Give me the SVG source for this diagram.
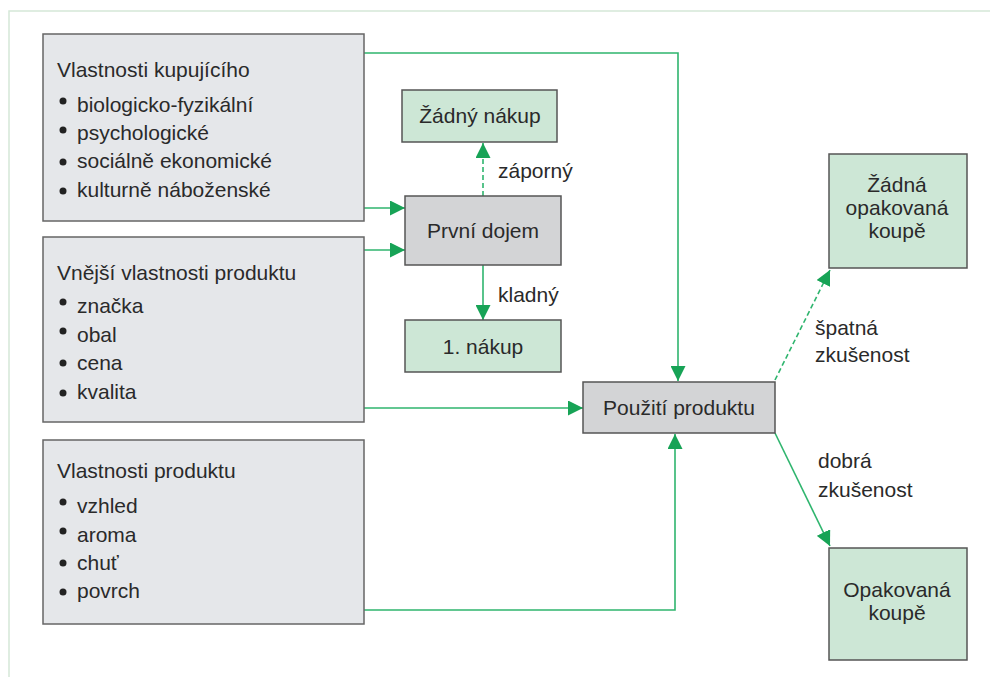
<svg xmlns="http://www.w3.org/2000/svg" width="990" height="677" viewBox="0 0 990 677">
<style>
text{font-family:"Liberation Sans",Arial,sans-serif;font-size:21px;fill:#2a2a2a}
.c{text-anchor:middle}
.grey{fill:#e5e7ea;stroke:#666;stroke-width:1.5}
.dark{fill:#d3d4d6;stroke:#555;stroke-width:1.5}
.green{fill:#cde7d6;stroke:#555;stroke-width:1.5}
.ln{fill:none;stroke:#2fb56e;stroke-width:1.6}
.dash{stroke-dasharray:5 3}
.b{fill:#222}
</style>
<defs>
<marker id="ah" viewBox="0 0 10 10" refX="10" refY="5" markerWidth="15" markerHeight="15" markerUnits="userSpaceOnUse" orient="auto">
<path d="M0,0 L10,5 L0,10 Z" fill="#17a356"/>
</marker>
</defs>
<rect width="990" height="677" fill="#fff"/>
<path d="M9,677 V11 H990" fill="none" stroke="#d5e8d8" stroke-width="1.5"/>
<g id="connectors">
<path class="ln" d="M364,53 H678 V381" marker-end="url(#ah)"/>
<path class="ln" d="M364,208 H405" marker-end="url(#ah)"/>
<path class="ln" d="M364,250 H405" marker-end="url(#ah)"/>
<path class="ln dash" d="M483,196 V143" marker-end="url(#ah)"/>
<path class="ln" d="M483,265 V320" marker-end="url(#ah)"/>
<path class="ln" d="M364,408 H583" marker-end="url(#ah)"/>
<path class="ln" d="M364,610 H675 V434" marker-end="url(#ah)"/>
<path class="ln dash" d="M775,380 L830,270" marker-end="url(#ah)"/>
<path class="ln" d="M775,433 L830,546" marker-end="url(#ah)"/>
<text x="498" y="178">záporný</text>
<text x="498" y="302">kladný</text>
<text x="815" y="335">špatná</text>
<text x="815" y="362">zkušenost</text>
<text x="818" y="468">dobrá</text>
<text x="818" y="497">zkušenost</text>
</g>
<g id="box-kupujici">
<rect class="grey" x="43" y="34" width="321" height="187"/>
<text x="57" y="77">Vlastnosti kupujícího</text>
<circle class="b" cx="63" cy="101" r="3.5"/><text x="77" y="112">biologicko-fyzikální</text>
<circle class="b" cx="63" cy="130" r="3.5"/><text x="77" y="140">psychologické</text>
<circle class="b" cx="63" cy="162" r="3.5"/><text x="77" y="168">sociálně ekonomické</text>
<circle class="b" cx="63" cy="191" r="3.5"/><text x="77" y="197">kulturně náboženské</text>
</g>
<g id="box-vnejsi">
<rect class="grey" x="43" y="237" width="321" height="185"/>
<text x="57" y="280">Vnější vlastnosti produktu</text>
<circle class="b" cx="63" cy="302" r="3.5"/><text x="77" y="313">značka</text>
<circle class="b" cx="63" cy="331" r="3.5"/><text x="77" y="342">obal</text>
<circle class="b" cx="63" cy="363" r="3.5"/><text x="77" y="370">cena</text>
<circle class="b" cx="63" cy="393" r="3.5"/><text x="77" y="399">kvalita</text>
</g>
<g id="box-produkt">
<rect class="grey" x="43" y="440" width="321" height="184"/>
<text x="57" y="478">Vlastnosti produktu</text>
<circle class="b" cx="63" cy="502" r="3.5"/><text x="77" y="513">vzhled</text>
<circle class="b" cx="63" cy="531" r="3.5"/><text x="77" y="542">aroma</text>
<circle class="b" cx="63" cy="563" r="3.5"/><text x="77" y="570">chuť</text>
<circle class="b" cx="63" cy="592" r="3.5"/><text x="77" y="598">povrch</text>
</g>
<g id="zadny-nakup">
<rect class="green" x="402" y="90" width="155" height="52"/>
<text class="c" x="480" y="123">Žádný nákup</text>
</g>
<g id="prvni-dojem">
<rect class="dark" x="405" y="196" width="156" height="69"/>
<text class="c" x="483" y="238">První dojem</text>
</g>
<g id="prvni-nakup">
<rect class="green" x="405" y="320" width="156" height="52"/>
<text class="c" x="483" y="354">1. nákup</text>
</g>
<g id="pouziti">
<rect class="dark" x="583" y="382" width="192" height="51"/>
<text class="c" x="679" y="415">Použití produktu</text>
</g>
<g id="zadna-opakovana">
<rect class="green" x="829" y="154" width="138" height="114"/>
<text class="c" x="897" y="192">Žádná</text>
<text class="c" x="897" y="215">opakovaná</text>
<text class="c" x="897" y="238">koupě</text>
</g>
<g id="opakovana">
<rect class="green" x="829" y="548" width="138" height="112"/>
<text class="c" x="897" y="597">Opakovaná</text>
<text class="c" x="897" y="620">koupě</text>
</g>
</svg>
